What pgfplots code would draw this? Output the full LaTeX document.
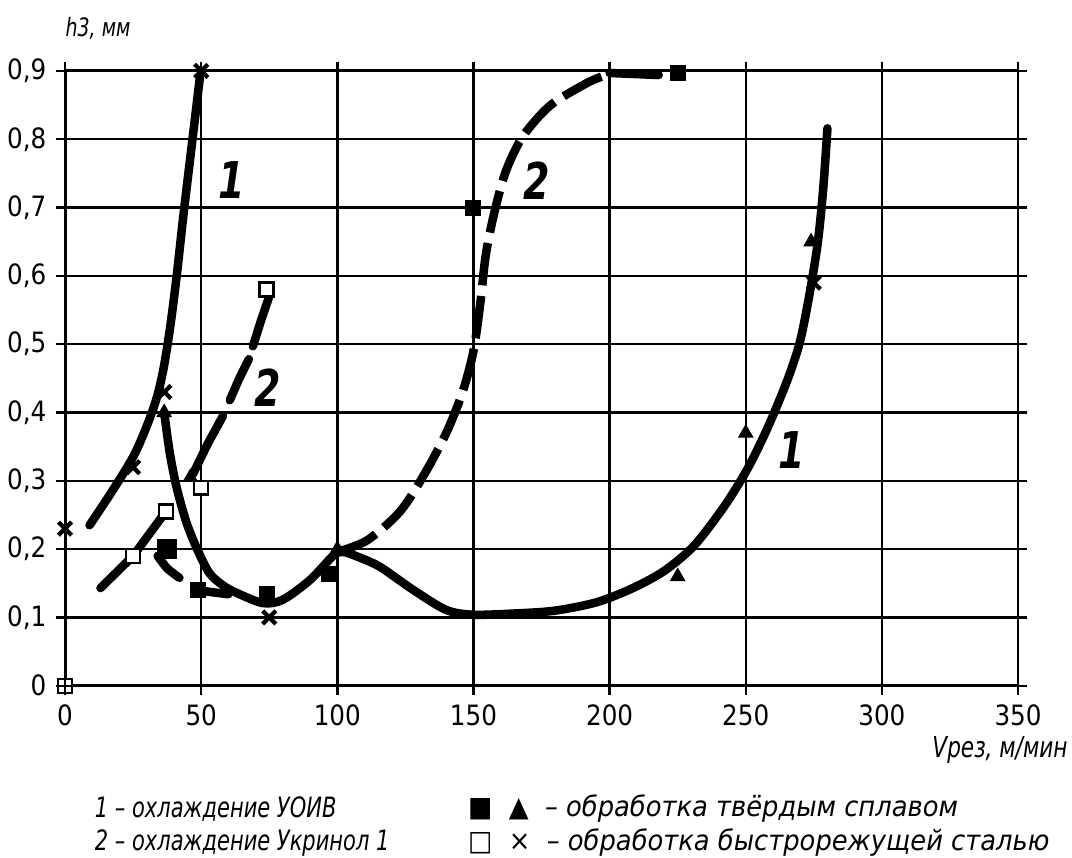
\documentclass[border=0pt]{standalone}
\usepackage{fontspec}
\setmainfont{DejaVu Sans}[FakeStretch=0.75]
\newfontfamily\tickfont{DejaVu Sans}[FakeStretch=0.88]
\newfontfamily\keyfont{DejaVu Sans}[FakeStretch=0.92]
\usepackage{pgfplots}
\pgfplotsset{compat=1.18}
\usetikzlibrary{calc}

\begin{document}
\begin{tikzpicture}
\begin{axis}[
  scale only axis, width=357.4pt, height=230.6pt,
  xmin=0, xmax=350, ymin=0, ymax=0.9,
  xtick={0,50,100,150,200,250,300,350},
  ytick={0,0.1,0.2,0.3,0.4,0.5,0.6,0.7,0.8,0.9},
  grid=major, grid style={black, line width=0.9pt},
  axis line style={black, line width=1.1pt},
  tick align=outside, major tick length=3.5pt,
  tick style={black, line width=0.9pt},
  tick label style={font=\tickfont\fontsize{10.5}{12}\selectfont},
  /pgf/number format/use comma,
  /pgf/number format/assume math mode=true,
  clip=false,
]
% 1 -- cooling UOIV, high-speed steel
\addplot[black, line width=3.2pt, smooth, line cap=round] coordinates {
  (9,0.235) (17,0.283) (25,0.335) (30,0.38) (33.7,0.422) (36.2,0.465)
  (38.6,0.525) (41,0.60) (43.5,0.69) (46.5,0.79) (49.5,0.89)};
% 2 -- cooling Ukrinol 1, high-speed steel (broken line)
\addplot[black, line width=3.2pt, line cap=round] coordinates {(13,0.143) (25,0.19) (37,0.255)};
\addplot[black, line width=3.2pt, line cap=round] coordinates {(47,0.31) (52.5,0.355) (58,0.395)};
\addplot[black, line width=3.2pt, line cap=round] coordinates {(60.5,0.418) (64,0.45) (67.5,0.478)};
\addplot[black, line width=3.2pt, line cap=round] coordinates {(69,0.497) (72,0.535) (75,0.57)};
% 1 -- cooling UOIV, carbide
\addplot[black, line width=3.2pt, smooth, line cap=round] coordinates {
  (36.4,0.40) (38.5,0.34) (41,0.29) (44.5,0.24) (48.5,0.20) (53,0.165)
  (58,0.147) (63,0.136) (72.7,0.121) (80,0.126) (90,0.155) (98.4,0.19)
  (102,0.196) (108,0.188) (115.7,0.174) (128,0.14) (140,0.111) (150,0.104)
  (166,0.106) (180,0.110) (195,0.122) (208,0.142) (220,0.168) (231,0.205)
  (242,0.262) (250,0.313) (256,0.36) (261,0.405) (266,0.455) (270,0.505)
  (273.5,0.575) (276.5,0.65) (278.5,0.73) (280,0.816)};
% 2 -- cooling Ukrinol 1, carbide
\addplot[black, line width=3.2pt, smooth, line cap=round] coordinates {(34,0.19) (37.5,0.172) (42,0.158)};
\addplot[black, line width=3.2pt, smooth, line cap=round] coordinates {(49,0.14) (54,0.137) (60,0.134)};
\addplot[black, line width=3.2pt, smooth, dash pattern=on 16pt off 4pt] coordinates {
  (100,0.196) (111,0.213) (123,0.255) (132,0.31) (140,0.37) (146,0.43)
  (150,0.49) (152.5,0.56) (154.5,0.63) (157.5,0.69) (161.6,0.75) (167,0.797)
  (173.3,0.83) (180,0.855) (192,0.883) (198,0.893)};
\addplot[black, line width=3.2pt, line cap=round] coordinates {(200,0.897) (218,0.894)};

% markers
\addplot[only marks, mark=square*, mark size=2.8pt, black] coordinates {
  (49,0.14) (74,0.135) (97,0.163) (150,0.70) (225,0.897)};
\addplot[only marks, mark=square*, mark size=3.6pt, black] coordinates {(37.5,0.20)};
\addplot[only marks, mark=triangle*, mark size=3pt, black] coordinates {
  (36.4,0.40) (46,0.305) (100,0.20) (225,0.16) (250,0.37) (274,0.65)};
\addplot[only marks, mark=square*, mark size=2.6pt, draw=black, fill=white, line width=0.9pt] coordinates {
  (25,0.19) (37,0.255) (50,0.29) (74,0.58) (0,0)};
\addplot[only marks, mark=x, mark size=3.5pt, black, line width=1.6pt] coordinates {
  (0,0.23) (25,0.32) (36.5,0.43) (50,0.9) (75,0.10) (275,0.59)};
\addplot[only marks, mark=+, mark size=2.6pt, black, line width=0.9pt] coordinates {(0,0)};

% curve numbers
\node[font=\bfseries\itshape\fontsize{19}{20}\selectfont] at (axis cs:61.3,0.74) {1};
\node[font=\bfseries\itshape\fontsize{19}{20}\selectfont] at (axis cs:74.5,0.436) {2};
\node[font=\bfseries\itshape\fontsize{19}{20}\selectfont] at (axis cs:173.3,0.74) {2};
\node[font=\bfseries\itshape\fontsize{19}{20}\selectfont] at (axis cs:267,0.345) {1};

% axis titles
\node[anchor=west, inner sep=0pt, yshift=16.1pt, font=\itshape\fontsize{9.5}{11}\selectfont]
  at (rel axis cs:0,1) {h3, мм};
\node[anchor=east, inner sep=0pt, xshift=18.75pt, yshift=-24pt, font=\itshape\fontsize{10.8}{12}\selectfont]
  at (rel axis cs:1,0) {Vрез, м/мин};

% key
\node[anchor=west, inner sep=0pt, xshift=11pt, yshift=-46.1pt, font=\itshape\fontsize{10.5}{12}\selectfont]
  at (rel axis cs:0,0) {1 – охлаждение УОИВ};
\node[anchor=west, inner sep=0pt, xshift=11pt, yshift=-58.9pt, font=\itshape\fontsize{10.5}{12}\selectfont]
  at (rel axis cs:0,0) {2 – охлаждение Укринол 1};
\node[anchor=west, inner sep=0pt, xshift=151pt, yshift=-46.1pt, font=\keyfont\itshape\fontsize{10.5}{12}\selectfont]
  at (rel axis cs:0,0) {■\ \ ▲\ \ – обработка твёрдым сплавом};
\node[anchor=west, inner sep=0pt, xshift=151pt, yshift=-58.9pt, font=\keyfont\itshape\fontsize{10.5}{12}\selectfont]
  at (rel axis cs:0,0) {□\ \ ×\ \ – обработка быстрорежущей сталью};

\coordinate (sw) at (rel axis cs:0,0);
\coordinate (ne) at (rel axis cs:1,1);
\end{axis}
\pgfresetboundingbox
\path[use as bounding box] ($(sw)+(-24.4pt,-64.5pt)$) rectangle ($(ne)+(20.25pt,26.6pt)$);
\end{tikzpicture}
\end{document}
